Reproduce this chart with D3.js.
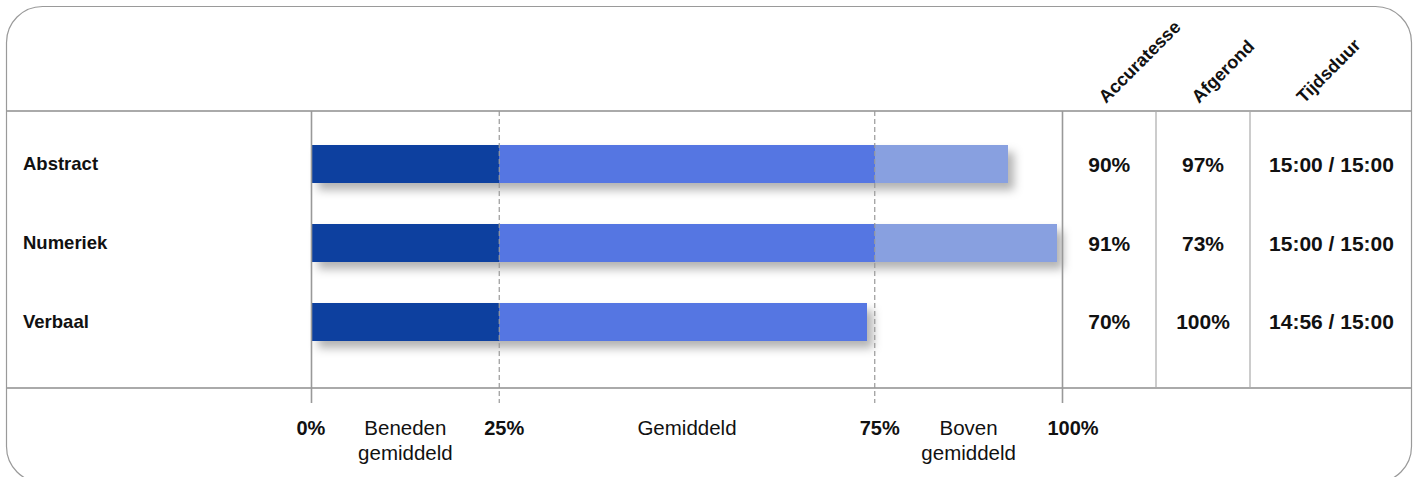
<!DOCTYPE html>
<html><head><meta charset="utf-8">
<script src="https://cdn.jsdelivr.net/npm/d3@7"></script>
<style>
html,body{margin:0;padding:0;background:#fff;}
svg{display:block;font-family:"Liberation Sans",Arial,sans-serif;}
</style></head>
<body>
<svg id="chart" width="1418" height="477"></svg>
<script>
const categories = ["Abstract", "Numeriek", "Verbaal"];
const scores = [92.7, 99.3, 74];
const accuracy = ["90%", "91%", "70%"];
const completed = ["97%", "73%", "100%"];
const duration = ["15:00 / 15:00", "15:00 / 15:00", "14:56 / 15:00"];
const columnHeaders = ["Accuratesse", "Afgerond", "Tijdsduur"];
const bandBreaks = [0, 25, 75, 100];
const tickLabels = ["0%", "25%", "75%", "100%"];
const bandLabels = [["Beneden", "gemiddeld"], ["Gemiddeld"], ["Boven", "gemiddeld"]];
const bandColors = ["#0d3f9f", "#5576e2", "#88a0e0"];

(function () {
const svg = d3.select("#chart");
const topY = 111, bottomY = 388;
const x = d3.scaleLinear().domain([0, 100]).range([311.5, 1062.5]);
const y = d3.scaleBand().domain(categories).range([123, 363]).paddingInner(0.52).paddingOuter(0.28);

const defs = svg.append("defs");
const f = defs.append("filter").attr("id", "shadow").attr("x", "-10%").attr("y", "-50%").attr("width", "130%").attr("height", "250%");
f.append("feDropShadow").attr("dx", 6).attr("dy", 7).attr("stdDeviation", 5).attr("flood-color", "#000").attr("flood-opacity", 0.3);

// outer box
svg.append("rect").attr("x", 6.5).attr("y", 6.5).attr("width", 1405).attr("height", 476).attr("rx", 36)
  .attr("fill", "#fff").attr("stroke", "#9a9a9a").attr("stroke-width", 1.2);
svg.append("line").attr("x1", 7).attr("x2", 1411).attr("y1", topY).attr("y2", topY).attr("stroke", "#aaa").attr("stroke-width", 2);
svg.append("line").attr("x1", 7).attr("x2", 1411).attr("y1", bottomY).attr("y2", bottomY).attr("stroke", "#aaa").attr("stroke-width", 2);

// table columns
const colEdges = [x(100), 1156, 1250, 1411];
[1156, 1250].forEach(cx => svg.append("line").attr("x1", cx).attr("x2", cx).attr("y1", topY).attr("y2", bottomY)
  .attr("stroke", "#aaa").attr("stroke-width", 1.2));

// bars
const rows = svg.append("g").selectAll("g").data(categories).join("g").attr("filter", "url(#shadow)");
rows.each(function (c, i) {
  const g = d3.select(this);
  const v = scores[i];
  for (let b = 0; b < bandBreaks.length - 1; b++) {
    const s = bandBreaks[b], e = Math.min(bandBreaks[b + 1], v);
    if (e <= s) continue;
    g.append("rect").attr("x", x(s)).attr("width", x(e) - x(s)).attr("y", y(c)).attr("height", y.bandwidth())
      .attr("fill", bandColors[b]).attr("shape-rendering", "crispEdges");
  }
});

// grid / ticks
bandBreaks.forEach((b, i) => {
  const solid = (b === 0 || b === 100);
  svg.append("line").attr("x1", x(b)).attr("x2", x(b)).attr("y1", topY).attr("y2", 403)
    .attr("stroke", "#999").attr("stroke-width", solid ? 1.6 : 1.2)
    .attr("stroke-dasharray", solid ? null : "5,3");
  svg.append("text").attr("x", x(b) - 15).attr("y", 435).text(tickLabels[i])
    .attr("font-size", 20).attr("font-weight", "bold").attr("fill", "#111");
});
bandLabels.forEach((lines, i) => {
  const cx = (x(bandBreaks[i]) + x(bandBreaks[i + 1])) / 2;
  lines.forEach((t, j) => svg.append("text").attr("x", cx).attr("y", 435 + j * 25).attr("text-anchor", "middle")
    .text(t).attr("font-size", 20.5).attr("fill", "#111"));
});

// row labels
categories.forEach(c => svg.append("text").attr("x", 23).attr("y", y(c) + y.bandwidth() / 2 + 6)
  .text(c).attr("font-size", 18.5).attr("font-weight", "bold").attr("fill", "#111"));

// table values
const cols = [accuracy, completed, duration];
cols.forEach((arr, ci) => {
  const cx = (colEdges[ci] + colEdges[ci + 1]) / 2 + (ci === 2 ? 1 : 0);
  categories.forEach((c, ri) => svg.append("text").attr("x", cx).attr("y", y(c) + y.bandwidth() / 2 + 7.5)
    .attr("text-anchor", "middle").text(arr[ri]).attr("font-size", 21).attr("font-weight", "bold").attr("fill", "#111"));
});

// rotated headers
const headerPos = [[1106, 104], [1199, 104], [1304, 104]];
columnHeaders.forEach((h, i) => svg.append("text")
  .attr("transform", `translate(${headerPos[i][0]},${headerPos[i][1]}) rotate(-45)`)
  .text(h).attr("font-size", 18).attr("font-weight", "bold").attr("fill", "#111"));
})();
</script>
</body></html>
